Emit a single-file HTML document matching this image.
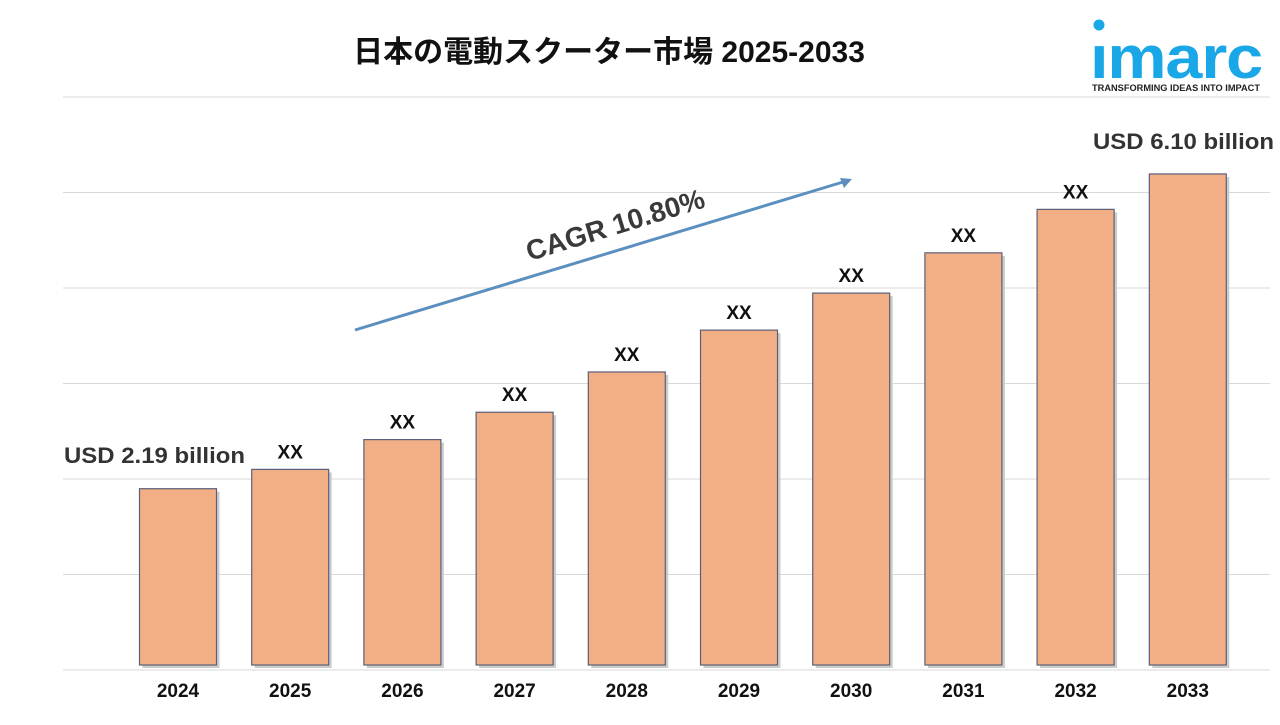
<!DOCTYPE html>
<html><head><meta charset="utf-8"><style>
body{margin:0;background:#fff;width:1280px;height:720px;overflow:hidden}
svg text{font-family:"Liberation Sans","Noto Sans CJK JP",sans-serif}
</style></head><body>
<svg id="chart" width="1280" height="720" viewBox="0 0 1280 720">
<text x="609" y="62" text-anchor="middle" font-size="30" font-weight="bold" fill="#111">日本の電動スクーター市場 2025-2033</text>
<g>
<circle cx="1099" cy="25" r="5.5" fill="#1aa7e8"/>
<text x="1176" y="78" text-anchor="middle" font-size="60" font-weight="bold" fill="#1aa7e8" letter-spacing="-1" textLength="172" lengthAdjust="spacingAndGlyphs">ımarc</text>
<text x="1176" y="91" text-anchor="middle" font-size="9.5" font-weight="bold" fill="#222" textLength="168" lengthAdjust="spacingAndGlyphs">TRANSFORMING IDEAS INTO IMPACT</text>
</g>
<g id="grid"></g>
<g id="bars"></g>
<g>
<line x1="355" y1="330" x2="843" y2="182" stroke="#5b8fc0" stroke-width="3"/>
<polygon points="852,179 840,178 844,188" fill="#5b8fc0"/>
<text x="618" y="234" text-anchor="middle" font-size="28" font-weight="bold" fill="#3a3a3a" transform="rotate(-17 618 234)">CAGR 10.80%</text>
</g>
<text x="64" y="463" font-size="22" font-weight="bold" fill="#333" textLength="181" lengthAdjust="spacingAndGlyphs">USD 2.19 billion</text>
<text x="1093" y="149" font-size="22" font-weight="bold" fill="#333" textLength="181" lengthAdjust="spacingAndGlyphs">USD 6.10 billion</text>
</svg>
<script>
const categories=["2024","2025","2026","2027","2028","2029","2030","2031","2032","2033"];
const values=[2.19,2.43,2.80,3.14,3.64,4.16,4.62,5.12,5.66,6.10];
const barLabels=["","XX","XX","XX","XX","XX","XX","XX","XX",""];
const NS="http://www.w3.org/2000/svg";
const x0=178,step=112.2,bw=77,base=665,k=80.5;
function xs(i){return x0+i*step;}
function ys(v){return base-v*k;}
const grid=document.getElementById('grid');
for(let j=0;j<7;j++){
  const y=97+j*95.5;
  const l=document.createElementNS(NS,'line');
  
  
  l.setAttribute('x1',63);l.setAttribute('x2',1270);l.setAttribute('y1',y);l.setAttribute('y2',y);
  l.setAttribute('stroke','#d9d9d9');l.setAttribute('stroke-width','1');
  grid.appendChild(l);
}
const g=document.getElementById('bars');
categories.forEach((c,i)=>{
  const cx=xs(i),top=ys(values[i]);
  const sh=document.createElementNS(NS,'rect');
  
  
  sh.setAttribute('x',cx-bw/2+3);sh.setAttribute('y',top+3);sh.setAttribute('width',bw);sh.setAttribute('height',base-top);
  sh.setAttribute('fill','#ccc');g.appendChild(sh);
  const r=document.createElementNS(NS,'rect');
  
  
  r.setAttribute('x',cx-bw/2);r.setAttribute('y',top);r.setAttribute('width',bw);r.setAttribute('height',base-top);
  r.setAttribute('fill','#f2af85');r.setAttribute('stroke','#5a5f7a');r.setAttribute('stroke-width','1.2');
  g.appendChild(r);
  if(barLabels[i]){
    const t=document.createElementNS(NS,'text');
    
    
    t.setAttribute('x',cx);t.setAttribute('y',top-11);t.setAttribute('text-anchor','middle');
    t.setAttribute('font-size','19');t.setAttribute('font-weight','bold');t.setAttribute('fill','#111');
    t.textContent=barLabels[i];g.appendChild(t);
  }
  const xl=document.createElementNS(NS,'text');
  
  
  xl.setAttribute('x',cx);xl.setAttribute('y',697);xl.setAttribute('text-anchor','middle');
  xl.setAttribute('font-size','19');xl.setAttribute('font-weight','bold');xl.setAttribute('fill','#111');
  xl.textContent=c;g.appendChild(xl);
});
</script>
</body></html>
